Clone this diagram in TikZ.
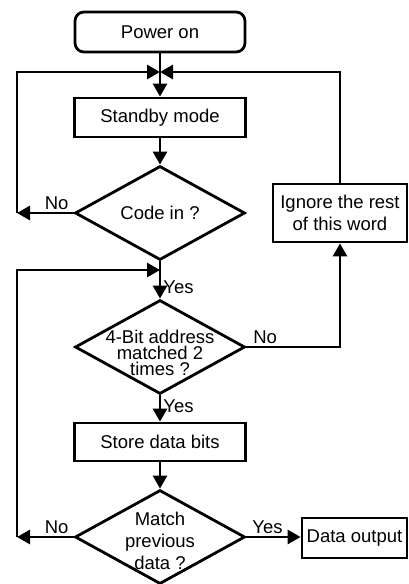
\documentclass[tikz,border=0pt]{standalone}
\usepackage{fontspec}
\setmainfont{Liberation Sans}
\usepackage{tikz}
\tikzset{
    startbox/.style={draw, rectangle, rounded corners=9pt, minimum width=170pt, minimum height=40pt, inner sep=0pt},
    process/.style={draw, rectangle, minimum width=171pt, minimum height=39pt, inner sep=0pt},
    decision/.style={draw, diamond, minimum width=170pt, minimum height=94pt, inner sep=0pt},
    flow/.style = {-{Triangle[length=13pt,width=14pt]}},
    answer/.style = {inner sep=2pt} }
\usetikzlibrary{arrows.meta, shapes.geometric, positioning}

\begin{document}
\begin{tikzpicture}[x=1pt, y=-1pt, line width=2.8pt, font=\fontsize{18.5}{22}\selectfont]
            \useasboundingbox (0,0) rectangle (409,584);
            \node[startbox] (power) at (160,32) {Power on};
            \node[process] (standby) at (160,117.5) {Standby mode};
            \node[decision, label={[align=center]center:Code in ?}] (code) at (160,213) {};
            \node[decision, label={[align=center, font=\fontsize{18.5}{16}\selectfont, yshift=-6pt]center:4-Bit address\\matched 2\\times ?}] (addr) at (160,347) {};
            \node[process, minimum height=38pt] (store) at (160,442) {Store data bits};
            \node[decision, label={[align=center, font=\fontsize{18.5}{22}\selectfont, yshift=-4pt]center:Match\\previous\\data ?}] (match) at (160,537) {};
            \node[process, align=center, minimum width=134pt, minimum height=58pt] (ignore) at (340,213) {Ignore the rest\\of this word};
            \node[process, minimum width=105pt, minimum height=40pt] (output) at (354.5,538) {Data output};
            % ----
            \coordinate (join) at (160,72);
            \coordinate (back) at (160,270);
            \coordinate (rail) at (17,72);
            \draw[flow] (power) -- (standby);
            \draw[flow] (standby) -- (code);
            \draw[flow] (code.west) -- node[answer, above, pos=0.3] {No} (code.west -| rail);
            \draw[flow] (code.west -| rail) |- (join);
            \draw[flow] (ignore.north) |- (join);
            \draw[flow] (code.south) -- node[answer, right, pos=0.7] {Yes} (addr.north);
            \draw[flow] (addr.east) -| node[answer, above, pos=0.1] {No} (ignore.south);
            \draw[flow] (addr.south) -- node[answer, right, pos=0.4] {Yes} (store.north);
            \draw[flow] (store) -- (match);
            \draw[flow] (match.west) -- node[answer, above, pos=0.3] {No} (match.west -| rail);
            \draw[flow] (match.west -| rail) |- (back);
            \draw[flow] (match.east) -- node[answer, above, pos=0.39] {Yes} (match.east -| output.west);
\end{tikzpicture}
\end{document}
